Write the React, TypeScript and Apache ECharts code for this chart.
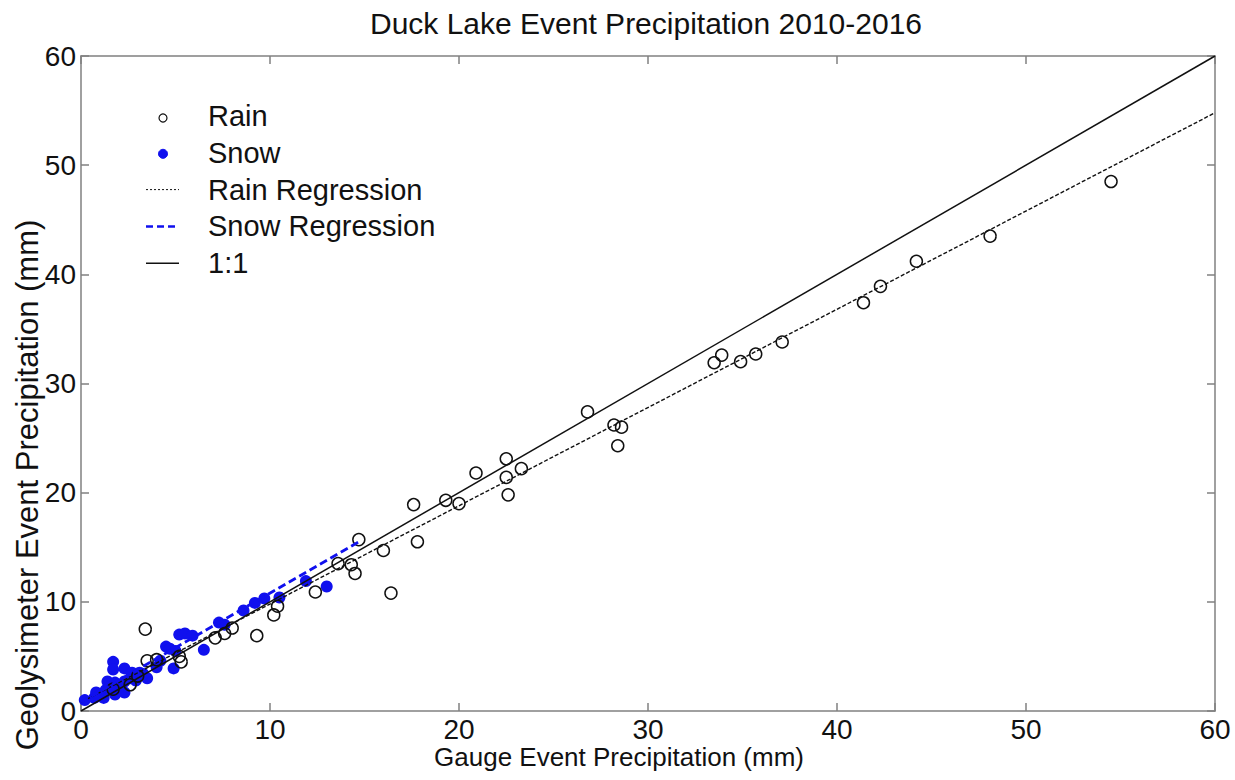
import React, { useEffect, useRef } from "react";
import * as echarts from "echarts";

const rainPoints: number[][] = [
  [54.5, 48.5], [48.1, 43.5], [44.2, 41.2], [42.3, 38.9], [41.4, 37.4],
  [37.1, 33.8], [35.7, 32.7], [34.9, 32.0], [33.9, 32.6], [33.5, 31.9],
  [28.6, 26.0], [28.2, 26.2], [28.4, 24.3], [26.8, 27.4], [23.3, 22.2],
  [22.5, 23.1], [22.5, 21.4], [22.6, 19.8], [20.9, 21.8], [20.0, 19.0],
  [19.3, 19.3], [17.6, 18.9], [17.8, 15.5], [16.4, 10.8], [16.0, 14.7],
  [14.7, 15.7], [14.5, 12.6], [14.3, 13.4], [13.6, 13.5], [12.4, 10.9],
  [10.4, 9.6], [10.2, 8.8], [9.3, 6.9], [8.0, 7.6], [7.6, 7.1],
  [7.1, 6.7], [5.3, 4.5], [5.2, 5.0], [4.0, 4.7], [3.5, 4.6],
  [3.4, 7.5], [2.6, 2.4], [1.7, 2.0], [3.0, 3.2],
];

const snowPoints: number[][] = [
  [0.2, 1.0], [0.7, 1.2], [0.8, 1.7], [1.3, 1.9], [1.2, 1.2], [1.8, 1.5],
  [2.3, 1.7], [1.4, 2.7], [1.8, 2.6], [2.3, 2.7], [2.9, 2.8], [3.5, 3.0],
  [1.7, 4.5], [1.7, 3.8], [2.3, 3.9], [2.7, 3.5], [3.1, 3.5], [4.2, 4.6],
  [4.5, 5.9], [4.7, 5.7], [4.9, 3.9], [5.2, 7.0], [5.5, 7.1], [5.9, 6.9],
  [6.5, 5.6], [7.3, 8.1], [7.6, 7.9], [8.6, 9.2], [9.2, 9.9], [9.7, 10.3],
  [10.5, 10.4], [11.9, 11.9], [13.0, 11.4], [2.0, 2.2], [1.0, 1.5],
  [5.0, 5.5], [4.0, 4.0], [1.5, 2.2], [2.6, 3.0], [3.3, 3.4],
];

const oneToOneLine: number[][] = [[0, 0], [60, 60]];
const rainRegressionLine: number[][] = [[0, 0.8], [60, 54.8]];
const snowRegressionLine: number[][] = [[0, 0.8], [14.8, 15.6]];

const axisTicks: number[] = [0, 10, 20, 30, 40, 50, 60];

const legendLabels: string[] = ["Rain", "Snow", "Rain Regression", "Snow Regression", "1:1"];

const titleText = "Duck Lake Event Precipitation 2010-2016";
const xAxisTitle = "Gauge Event Precipitation (mm)";
const yAxisTitle = "Geolysimeter Event Precipitation (mm)";

const FONT = "Liberation Sans, Arial, sans-serif";
const BLUE = "#1010ee";

export default function App() {
  const ref = useRef<HTMLDivElement>(null);
  useEffect(() => {
    if (!ref.current) return;
    const chart = echarts.init(ref.current, undefined, { renderer: "svg" });
    const axisLineStyle = { color: "#808080", width: 1.5 };
    const baseAxis = {
      type: "value" as const,
      min: axisTicks[0],
      max: axisTicks[axisTicks.length - 1],
      interval: 10,
      splitLine: { show: false },
      axisLine: { show: true, onZero: false, lineStyle: axisLineStyle },
      axisTick: { show: true, inside: true, length: 8, lineStyle: axisLineStyle },
    };
    const legendX = 163;
    const legendTextX = 208;
    const legendY0 = 116;
    const legendGap = 36.8;
    const graphic: any[] = [];
    legendLabels.forEach((lab, i) => {
      const y = legendY0 + i * legendGap;
      graphic.push({
        type: "text",
        x: legendTextX,
        y,
        style: { text: lab, fill: "#111", font: `29px ${FONT}`, textVerticalAlign: "middle", textAlign: "left" },
        silent: true,
      });
    });
    graphic.push(
      { type: "circle", shape: { cx: legendX, cy: legendY0 + 2, r: 4 }, style: { fill: "#fff", stroke: "#111", lineWidth: 1.2 } },
      { type: "circle", shape: { cx: legendX, cy: legendY0 + legendGap + 1, r: 4.5 }, style: { fill: BLUE, stroke: BLUE } },
      { type: "line", shape: { x1: legendX - 17, y1: legendY0 + 2 * legendGap, x2: legendX + 16, y2: legendY0 + 2 * legendGap }, style: { stroke: "#111", lineWidth: 1, lineDash: [2, 2] } },
      { type: "line", shape: { x1: legendX - 17, y1: legendY0 + 3 * legendGap, x2: legendX + 16, y2: legendY0 + 3 * legendGap }, style: { stroke: BLUE, lineWidth: 2.5, lineDash: [7, 4] } },
      { type: "line", shape: { x1: legendX - 17, y1: legendY0 + 4 * legendGap, x2: legendX + 16, y2: legendY0 + 4 * legendGap }, style: { stroke: "#111", lineWidth: 1.5 } },
      {
        type: "text",
        x: 619,
        y: 757,
        style: { text: xAxisTitle, fill: "#111", font: `26px ${FONT}`, textAlign: "center", textVerticalAlign: "middle" },
        silent: true,
      },
      {
        type: "text",
        x: 27,
        y: 485,
        rotation: Math.PI / 2,
        style: { text: yAxisTitle, fill: "#111", font: `31px ${FONT}`, textAlign: "center", textVerticalAlign: "middle" },
        silent: true,
      },
      {
        type: "text",
        x: 646,
        y: 23,
        style: { text: titleText, fill: "#111", font: `30px ${FONT}`, textAlign: "center", textVerticalAlign: "middle" },
        silent: true,
      },
    );

    chart.setOption({
      animation: false,
      backgroundColor: "#fff",
      grid: { left: 81, right: 20, top: 56, bottom: 69, containLabel: false },
      xAxis: [
        {
          ...baseAxis,
          position: "bottom",
          axisLabel: { fontFamily: FONT, fontSize: 28, color: "#111", margin: 4 },
        },
        { ...baseAxis, position: "top", axisLabel: { show: false } },
      ],
      yAxis: [
        {
          ...baseAxis,
          position: "left",
          axisLabel: { fontFamily: FONT, fontSize: 28, color: "#111", margin: 5 },
        },
        { ...baseAxis, position: "right", axisLabel: { show: false } },
      ],
      graphic,
      series: [
        {
          name: "Snow",
          type: "scatter",
          data: snowPoints,
          symbol: "circle",
          symbolSize: 12,
          itemStyle: { color: BLUE, opacity: 1 },
          z: 2,
        },
        {
          name: "Rain",
          type: "scatter",
          data: rainPoints,
          symbol: "circle",
          symbolSize: 12,
          itemStyle: { color: "rgba(255,255,255,0)", borderColor: "#111", borderWidth: 1.5, opacity: 1 },
          z: 3,
        },
        {
          name: "Rain Regression",
          type: "line",
          data: rainRegressionLine,
          showSymbol: false,
          lineStyle: { color: "#111", width: 1.4, type: [4, 2] },
          z: 4,
        },
        {
          name: "Snow Regression",
          type: "line",
          data: snowRegressionLine,
          showSymbol: false,
          lineStyle: { color: BLUE, width: 2.8, type: [8, 4] },
          z: 5,
        },
        {
          name: "1:1",
          type: "line",
          data: oneToOneLine,
          showSymbol: false,
          lineStyle: { color: "#111", width: 1.5 },
          z: 4,
        },
      ],
    });
    return () => chart.dispose();
  }, []);
  return <div ref={ref} style={{ width: 1235, height: 780, position: "absolute", left: 0, top: 0 }} />;
}
